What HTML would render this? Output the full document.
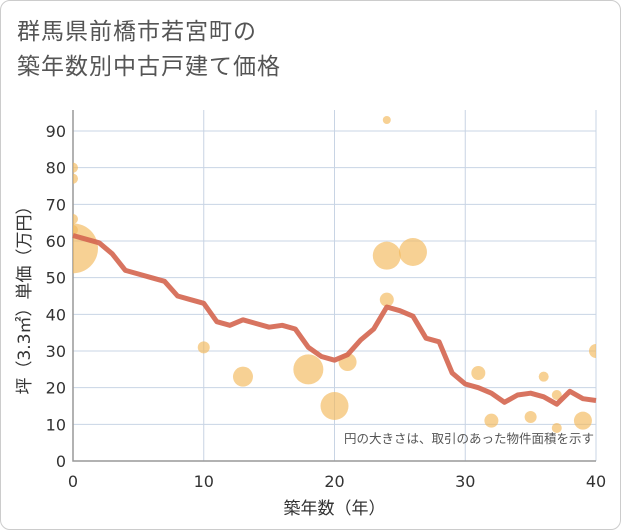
<!DOCTYPE html>
<html><head><meta charset="utf-8"><style>
body{margin:0;background:#fff}
.wrap{position:relative;width:619px;height:528px;border:1px solid #ccc;border-radius:10px;background:#fff;overflow:hidden}
.title{position:absolute;left:16px;top:13px;font:23px "Liberation Sans","Noto Sans CJK JP",sans-serif;color:#555;line-height:35px;letter-spacing:1px}
svg text{font-family:"DejaVu Sans","Noto Sans CJK JP",sans-serif}
</style></head><body>
<div class="wrap">
<div class="title">群馬県前橋市若宮町の<br>築年数別中古戸建て価格</div>
<svg id="c" width="621" height="530" style="position:absolute;left:-1px;top:-1px"></svg>
</div>
<script>
const xTicks=[0,10,20,30,40];
const yTicks=[0,10,20,30,40,50,60,70,80,90];
const lineYears=[0,1,2,3,4,5,6,7,8,9,10,11,12,13,14,15,16,17,18,19,20,21,22,23,24,25,26,27,28,29,30,31,32,33,34,35,36,37,38,39,40];
const linePrices=[61.5,60.5,59.5,56.5,52,51,50,49,45,44,43,38,37,38.5,37.5,36.5,37,36,31,28.5,27.5,29,33,36,42,41,39.5,33.5,32.5,24,21,20,18.5,16,18,18.5,17.5,15.5,19,17,16.5];
const bubbleYears=[0,0,0,0,0,10,13,18,20,21,24,24,24,26,31,32,35,36,37,37,39,40];
const bubblePrices=[80,77,66,63,58,31,23,25,15,27,93,56,44,57,24,11,12,23,18,9,11,30];
const bubbleSizes=[5,5,5,5,25,6,10,15,14,9,4,14,7,14,7,7,6,5,5,5,9,7];
const NS='http://www.w3.org/2000/svg',svg=document.getElementById('c');
const X0=73,X1=596,Y0=461,Y1=131;
const sx=v=>X0+(X1-X0)*v/40, sy=v=>Y0-(Y0-Y1)*v/90;
function mk(t,a){const e=document.createElementNS(NS,t);for(const k in a)e.setAttribute(k,a[k]);svg.appendChild(e);return e;}
const cp=mk('clipPath',{id:'cp'});
const r=document.createElementNS(NS,'rect');r.setAttribute('x',X0);r.setAttribute('y',110);r.setAttribute('width',X1-X0);r.setAttribute('height',Y0-110);cp.appendChild(r);
yTicks.forEach(v=>{
 if(v>0){const g=mk('line',{x1:X0,x2:X1,y1:sy(v),y2:sy(v),stroke:'#c8d4e4','stroke-width':1});
 
 }
 const t=mk('text',{x:66,y:sy(v)+6,'text-anchor':'end','font-size':16,fill:'#333'});t.textContent=v;
 
 
});
xTicks.forEach(v=>{
 if(v>0){const g=mk('line',{x1:sx(v),x2:sx(v),y1:110,y2:Y0,stroke:'#c8d4e4','stroke-width':1});
 
 }
 const t=mk('text',{x:sx(v),y:487,'text-anchor':'middle','font-size':16,fill:'#333'});t.textContent=v;
 
 
});
const ax=mk('path',{d:`M${X0} 110V${Y0}H${X1}`,fill:'none',stroke:'#999','stroke-width':1.5});


const bg=mk('g',{'clip-path':'url(#cp)'});
bubbleYears.forEach((y,i)=>{
 const c=document.createElementNS(NS,'circle');
 c.setAttribute('cx',sx(y));c.setAttribute('cy',sy(bubblePrices[i]));c.setAttribute('r',bubbleSizes[i]);
 c.setAttribute('fill','#f2b85a');c.setAttribute('fill-opacity','0.65');
 
 
 bg.appendChild(c);
});
const ln=mk('polyline',{points:lineYears.map((y,i)=>sx(y)+','+sy(linePrices[i])).join(' '),fill:'none',stroke:'#d4654f','stroke-width':5,'stroke-opacity':0.9,'stroke-linejoin':'round'});


const note=mk('text',{x:594,y:443,'text-anchor':'end','font-size':12.5,fill:'#555'});note.textContent='円の大きさは、取引のあった物件面積を示す';


const xt=mk('text',{x:sx(20),y:514,'text-anchor':'middle','font-size':17,fill:'#333'});xt.textContent='築年数（年）';


const yt=mk('text',{x:0,y:0,'text-anchor':'middle','font-size':17,fill:'#333',transform:`translate(30,${sy(45)}) rotate(-90)`});yt.textContent='坪（3.3㎡）単価（万円）';


</script>
</body></html>
